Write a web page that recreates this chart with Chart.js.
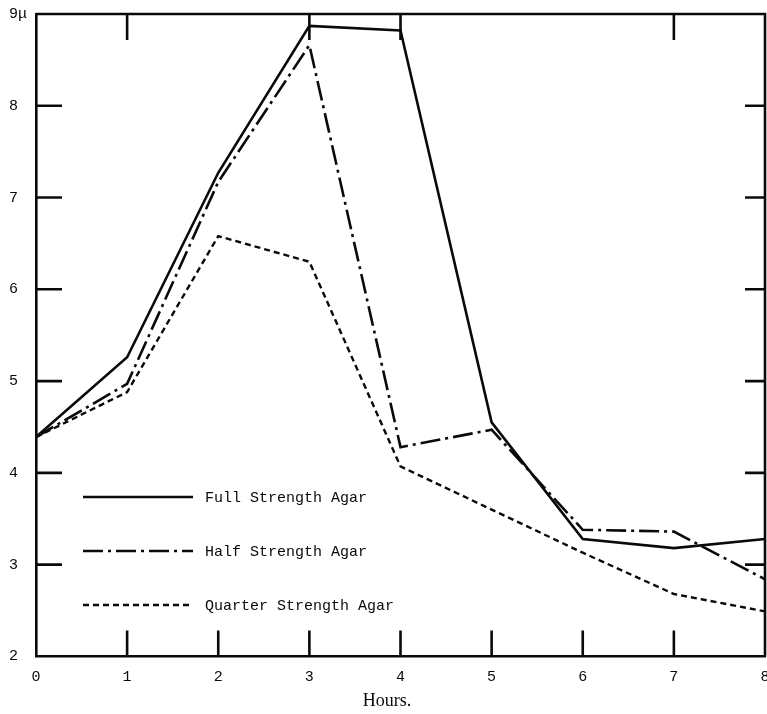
<!DOCTYPE html>
<html><head><meta charset="utf-8">
<script src="https://cdn.jsdelivr.net/npm/chart.js@4.4.1/dist/chart.umd.min.js"></script>
<style>html,body{margin:0;padding:0;background:#fff}#wrap{width:767px;height:714px;position:relative}</style>
</head><body><div id="wrap"><canvas id="c" width="767" height="714"></canvas></div>
<script>
const hours = [0, 1, 2, 3, 4, 5, 6, 7, 8];
const fullStrength = [4.39, 5.26, 7.27, 8.87, 8.82, 4.55, 3.28, 3.18, 3.28];
const halfStrength = [4.39, 4.97, 7.17, 8.66, 4.28, 4.47, 3.38, 3.36, 2.84];
const quarterStrength = [4.39, 4.88, 6.58, 6.30, 4.07, 3.60, 3.13, 2.68, 2.49];
const seriesNames = ['Full Strength Agar', 'Half Strength Agar', 'Quarter Strength Agar'];
const xLabel = 'Hours.';
const yUnit = 'μ';
const topTickHours = [1, 3, 4, 7];
const bottomTickHours = [1, 2, 3, 4, 5, 6, 7];
const sideTickValues = [3, 4, 5, 6, 7, 8];

const INK = '#0a0a0a';
const mono = '"Liberation Mono", "DejaVu Sans Mono", monospace';

function pts(vals) { return hours.map((h, i) => ({ x: h, y: vals[i] })); }

const frameTicks = {
  id: 'frameTicks',
  afterDatasetsDraw(chart) {
    const { ctx, chartArea: a, scales: { x, y } } = chart;
    ctx.save();
    ctx.strokeStyle = INK;
    ctx.lineWidth = 2.6;
    ctx.lineCap = 'butt';
    ctx.beginPath();
    ctx.moveTo(a.left, a.top); ctx.lineTo(a.right, a.top); ctx.lineTo(a.right, a.bottom);
    bottomTickHours.forEach(h => { const p = x.getPixelForValue(h); ctx.moveTo(p, a.bottom); ctx.lineTo(p, a.bottom - 26); });
    topTickHours.forEach(h => { const p = x.getPixelForValue(h); ctx.moveTo(p, a.top); ctx.lineTo(p, a.top + 26); });
    sideTickValues.forEach(v => { const p = y.getPixelForValue(v); ctx.moveTo(a.left, p); ctx.lineTo(a.left + 26, p); ctx.moveTo(a.right, p); ctx.lineTo(a.right - 20, p); });
    ctx.stroke();
    ctx.restore();
  }
};

const innerLegend = {
  id: 'innerLegend',
  afterDatasetsDraw(chart) {
    const { ctx, chartArea: a } = chart;
    const x0 = a.left + 47, x1 = a.left + 157, tx = a.left + 169;
    const ys = [a.top + 483, a.top + 537, a.top + 591];
    ctx.save();
    chart.data.datasets.forEach((ds, i) => {
      ctx.strokeStyle = ds.borderColor;
      ctx.lineWidth = ds.borderWidth;
      ctx.setLineDash(ds.borderDash || []);
      ctx.beginPath(); ctx.moveTo(x0, ys[i]); ctx.lineTo(x1, ys[i]); ctx.stroke();
      ctx.setLineDash([]);
      ctx.fillStyle = INK;
      ctx.font = '15px ' + mono;
      ctx.textBaseline = 'middle';
      ctx.textAlign = 'left';
      ctx.fillText(ds.label, tx, ys[i] + 1);
    });
    ctx.restore();
  }
};

new Chart(document.getElementById('c'), {
  type: 'line',
  data: {
    datasets: [
      { label: seriesNames[0], data: pts(fullStrength), borderColor: INK, borderWidth: 2.6, borderDash: [], pointRadius: 0, tension: 0, fill: false },
      { label: seriesNames[1], data: pts(halfStrength), borderColor: INK, borderWidth: 2.6, borderDash: [20, 5, 3, 5], pointRadius: 0, tension: 0, fill: false },
      { label: seriesNames[2], data: pts(quarterStrength), borderColor: INK, borderWidth: 2.4, borderDash: [6, 4], pointRadius: 0, tension: 0, fill: false }
    ]
  },
  options: {
    responsive: false,
    animation: false,
    devicePixelRatio: 1,
    layout: { padding: { left: 9, right: 2, top: 14, bottom: 0 } },
    plugins: {
      legend: { display: false },
      tooltip: { enabled: false },
      title: {
        display: true, position: 'bottom', text: xLabel, color: INK,
        font: { family: '"Liberation Serif", "DejaVu Serif", serif', size: 18, weight: 'normal' },
        padding: { top: 0, bottom: 2 }
      }
    },
    scales: {
      x: {
        type: 'linear', min: 0, max: 8,
        afterFit: s => { s.height = 34; s.paddingLeft = 0; s.paddingRight = 0; },
        ticks: { stepSize: 1, color: INK, padding: 12, font: { family: mono, size: 15 }, maxRotation: 0 },
        grid: { display: false, drawTicks: false },
        border: { display: true, color: INK, width: 2.6 }
      },
      y: {
        min: 2, max: 9,
        afterFit: s => { s.width = 27; s.paddingTop = 0; s.paddingBottom = 0; },
        ticks: { stepSize: 1, color: INK, crossAlign: 'far', padding: 0, font: { family: mono, size: 15 },
          callback: v => (v === 9 ? v + yUnit : String(v)) },
        grid: { display: false, drawTicks: false },
        border: { display: true, color: INK, width: 2.6 }
      }
    }
  },
  plugins: [frameTicks, innerLegend]
});
</script>
</body></html>
